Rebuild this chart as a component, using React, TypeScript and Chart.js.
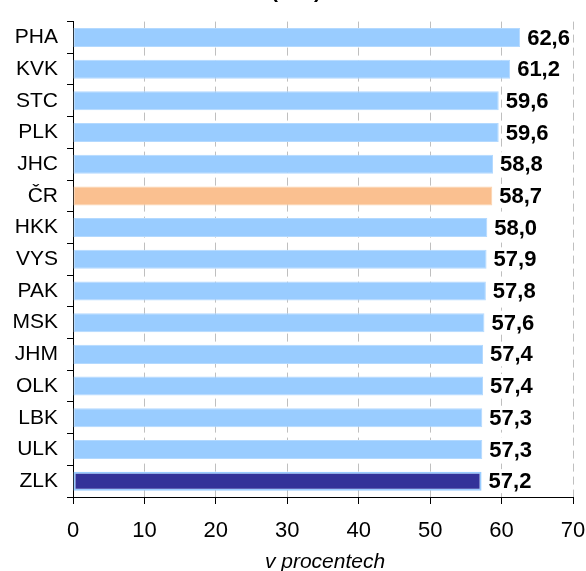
import React, { useEffect, useRef } from "react";
import { Chart, registerables } from "chart.js";

Chart.register(...registerables);

const categories = ["PHA", "KVK", "STC", "PLK", "JHC", "ČR", "HKK", "VYS", "PAK", "MSK", "JHM", "OLK", "LBK", "ULK", "ZLK"];
const values = [62.6, 61.2, 59.6, 59.6, 58.8, 58.7, 58.0, 57.9, 57.8, 57.6, 57.4, 57.4, 57.3, 57.3, 57.2];
const xTicks = [0, 10, 20, 30, 40, 50, 60, 70];
const titleText = "(v %)";
const axisTitle = "v procentech";

const FONT = "'Liberation Sans', Arial, sans-serif";

const fillColors = categories.map((c, i) =>
  c === "ČR" ? "#FAC090" : i === categories.length - 1 ? "#333399" : "#99CCFF"
);
const borderColors = categories.map((c, i) =>
  c === "ČR" ? "#FCD3AE" : i === categories.length - 1 ? "#99CCFF" : "#B3D9FF"
);
const borderWidths = categories.map((c, i) => (i === categories.length - 1 ? 2 : 1));

const labelPlugin = {
  id: "valueLabels",
  afterDatasetsDraw(chart: any) {
    const ctx = chart.ctx;
    const meta = chart.getDatasetMeta(0);
    ctx.save();
    ctx.font = `bold 22px ${FONT}`;
    ctx.textBaseline = "middle";
    ctx.textAlign = "left";
    meta.data.forEach((bar: any, i: number) => {
      const txt = values[i].toFixed(1).replace(".", ",");
      const x = bar.x + 7;
      const y = bar.y;
      const w = ctx.measureText(txt).width;
      ctx.fillStyle = "#ffffff";
      ctx.fillRect(x - 2, y - 12, w + 4, 24);
      ctx.fillStyle = "#000000";
      ctx.fillText(txt, x, y + 1);
    });
    ctx.restore();
  },
};

const titlePlugin = {
  id: "cutTitles",
  afterDraw(chart: any) {
    const ctx = chart.ctx;
    const area = chart.chartArea;
    ctx.save();
    ctx.fillStyle = "#000000";
    ctx.textAlign = "center";
    ctx.textBaseline = "alphabetic";
    ctx.font = `bold 21px ${FONT}`;
    ctx.fillText(titleText, 296, -2);
    ctx.font = `italic 21px ${FONT}`;
    ctx.fillText(axisTitle, (area.left + area.right) / 2 + 2, 568);
    ctx.restore();
  },
};

export default function App() {
  const ref = useRef<HTMLCanvasElement>(null);
  useEffect(() => {
    if (!ref.current) return;
    const chart = new Chart(ref.current, {
      type: "bar",
      data: {
        labels: categories,
        datasets: [
          {
            data: values,
            backgroundColor: fillColors,
            borderColor: borderColors,
            borderWidth: borderWidths,
            borderSkipped: false,
            barPercentage: 0.6,
            categoryPercentage: 1,
          },
        ],
      },
      options: {
        indexAxis: "y",
        responsive: false,
        animation: false,
        layout: { padding: { top: 16, right: 13, left: 0, bottom: 0 } },
        plugins: {
          legend: { display: false },
          tooltip: { enabled: false },
          title: { display: false },
        },
        scales: {
          x: {
            min: 0,
            max: 70,
            afterBuildTicks: (axis: any) => {
              axis.ticks = xTicks.map((v) => ({ value: v }));
            },
            afterFit: (axis: any) => {
              axis.height = 74;
              axis.paddingRight = 0;
              axis.paddingLeft = 0;
            },
            ticks: {
              color: "#000",
              font: { family: FONT, size: 22 },
              padding: 14,
              maxRotation: 0,
            },
            grid: {
              color: "#BFBFBF",
              lineWidth: 1,
              tickColor: "#000",
              tickLength: 7,
              tickBorderDash: [],
              drawTicks: true,
            },
            border: { display: true, color: "#000", width: 1, dash: [8, 5] },
            title: { display: false },
          },
          y: {
            afterFit: (axis: any) => {
              axis.width = 73;
            },
            ticks: {
              color: "#000",
              font: { family: FONT, size: 21 },
              padding: 9,
            },
            grid: {
              offset: true,
              drawOnChartArea: false,
              drawTicks: true,
              tickLength: 6,
              color: "#000",
              tickColor: "#000",
            },
            border: { display: true, color: "#000", width: 1 },
          },
        },
      },
      plugins: [labelPlugin, titlePlugin],
    } as any);
    return () => chart.destroy();
  }, []);
  return (
    <div style={{ position: "absolute", left: 0, top: 0, width: 586, height: 571, background: "#fff" }}>
      <canvas ref={ref} width={586} height={571} style={{ width: 586, height: 571 }} />
    </div>
  );
}
